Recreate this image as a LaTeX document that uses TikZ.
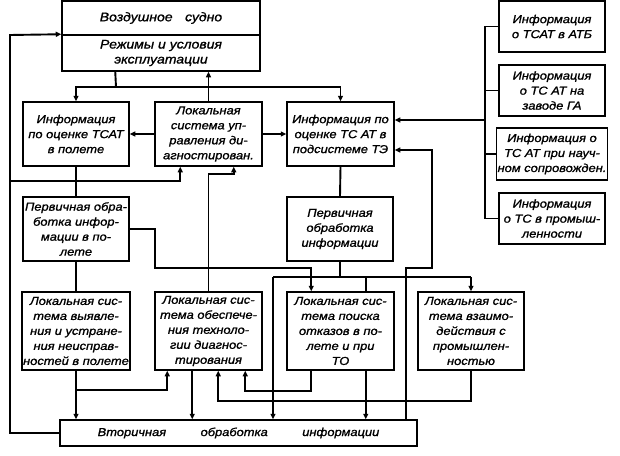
\documentclass[tikz,border=0pt]{standalone}
\usepackage{fontspec}
\setmainfont{Liberation Sans}
\newfontfamily\gostfont{Liberation Sans}[FakeStretch=1.12,FakeBold=1.2]
\usetikzlibrary{arrows.meta,calc}
\begin{document}
\begin{tikzpicture}[x=1pt,y=-1pt,
  box/.style={draw, line width=1.5pt, inner sep=1pt, align=center, minimum width=106pt,
    font=\gostfont\itshape\fontsize{11.5}{15}\selectfont},
  wire/.style={line width=1.9pt},
  arr/.style={wire,-{Triangle[length=5.5pt,width=5pt]}}]
\useasboundingbox (0,0) rectangle (620,455);
% top
\node[box, minimum width=198pt, minimum height=34pt, font=\gostfont\itshape\fontsize{12.5}{15}\selectfont] (air) at (161,18) {Воздушное\quad судно};
\node[box, minimum width=198pt, minimum height=36pt, font=\gostfont\itshape\fontsize{12.5}{15}\selectfont] (modes) at (161,53) {Режимы и условия\\эксплуатации};
% second row
\node[box, minimum height=64pt] (info1) at (76,134) {Информация\\по оценке ТСАТ\\в полете};
\node[box, minimum width=107pt, minimum height=64pt] (lcs) at (208.5,134) {Локальная\\система уп-\\равления ди-\\агностирован.};
\node[box, minimum width=107pt, minimum height=64pt] (infoTE) at (340.5,134) {Информация по\\оценке ТС АТ в\\подсистеме ТЭ};
% right column
\node[box, minimum height=51pt] (R1) at (552,26.5) {Информация\\о ТСАТ в АТБ};
\node[box, minimum height=51pt] (R2) at (552,90.5) {Информация\\о ТС АТ на\\заводе ГА};
\node[box, minimum height=52pt] (R3) at (552,154) {Информация о\\ТС АТ при науч-\\ном сопровожден.};
\node[box, minimum height=51pt] (R4) at (552,218.5) {Информация\\о ТС в промыш-\\ленности};
% primary processing
\node[box, minimum height=64pt] (pf) at (76,229) {Первичная обра-\\ботка инфор-\\мации в по-\\лете};
\node[box, minimum height=64pt] (pr) at (340,229) {Первичная\\обработка\\информации};
% local systems
\node[box, minimum height=78pt] (B1) at (76,331) {Локальная сис-\\тема выявле-\\ния и устране-\\ния неисправ-\\ностей в полете};
\node[box, minimum width=107pt, minimum height=78pt] (B2) at (208.5,331) {Локальная сис-\\тема обеспече-\\ния техноло-\\гии диагнос-\\тирования};
\node[box, minimum width=107pt, minimum height=78pt] (B3) at (340.5,331) {Локальная сис-\\тема поиска\\отказов в по-\\лете и при\\ТО};
\node[box, minimum height=78pt] (B4) at (471,331) {Локальная сис-\\тема взаимо-\\действия с\\промышлен-\\ностью};
% secondary
\node[box, minimum width=357pt, minimum height=26pt] (sec) at (238.5,433) {Вторичная\hspace{3em}обработка\hspace{3em}информации};

% connectors
\draw[arr] (sec.west) -| (10,35) -- (modes.north west);
\draw[arr] (10,181) -| ([xshift=26pt]lcs.south west);
\coordinate (j1) at (116,87);
\draw[wire] ([xshift=54pt]modes.south west) -- (j1);
\draw[arr] (j1) -| (info1.north);
\draw[arr] (j1) -| (infoTE.north);
\draw[arr] (lcs.north) -- (lcs.north |- modes.south);
\draw[arr] (lcs.west) -- (info1.east);
\draw[arr] (lcs.east) -- (infoTE.west);
\draw[wire] (info1.south) -- (pf.north);
\draw[wire] (pf.south) -- (B1.north);
\draw[wire] (infoTE.south) -- (pr.north);
\draw[arr] (B2.north) -- (208.5,174) -| ([xshift=-29pt]lcs.south east);
\draw[arr] (pf.east) -| (155,268) -| ([xshift=25pt]B3.north west);
% bus below primary processing
\coordinate (busL) at (273,277);
\coordinate (busR) at (471,277);
\draw[wire] (pr.south) -- (pr.south |- busL);
\draw[wire] (busL) -- (busR);
\draw[wire] ([xshift=-29pt]B3.north east |- busL) -- ([xshift=-29pt]B3.north east);
\draw[arr] (busR) -- (B4.north);
\draw[arr] (busL) -- (busL |- sec.north);
% feedback to infoTE
\coordinate (te2) at ([yshift=-16pt]infoTE.east);
\draw[arr] ([xshift=-12pt]sec.north east) |- (432,268) |- (te2);
% right bus
\coordinate (rb) at (485,0);
\coordinate (te1) at ([yshift=14pt]infoTE.east);
\draw[wire] (R1.west) -- (R1.west -| rb) -- (R4.west -| rb) -- (R4.west);
\draw[wire] (R2.west) -- (R2.west -| rb);
\draw[wire] (R3.west) -- (R3.west -| rb);
\draw[arr] (te1 -| rb) -- (te1);
% bottom row connections
\coordinate (b1j) at ([yshift=-19pt]B1.south);
\draw[arr] (B1.south) -- (B1.south |- sec.north);
\draw[arr] (b1j) -| ([xshift=13pt]B2.south west);
\draw[arr] ([xshift=38pt]B2.south west) -- ([xshift=38pt]B2.south west |- sec.north);
\draw[arr] (B4.south) |- ([xshift=64pt,yshift=-30pt]B2.south west) -- ([xshift=64pt]B2.south west);
\draw[arr] ([xshift=25pt]B3.south west) |- ([xshift=91pt,yshift=-20pt]B2.south west) -- ([xshift=91pt]B2.south west);
\draw[arr] ([xshift=-29pt]B3.south east) -- ([xshift=-29pt]B3.south east |- sec.north);
\end{tikzpicture}
\end{document}
